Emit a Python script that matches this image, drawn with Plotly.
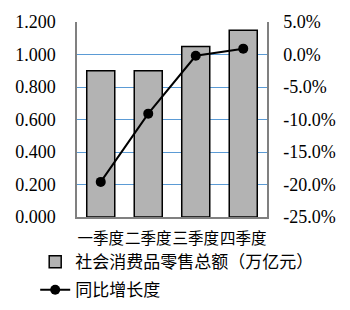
import plotly.graph_objects as go

categories = ["一季度", "二季度", "三季度", "四季度"]
retail_sales = [0.90, 0.90, 1.05, 1.15]
yoy_growth = [-19.6, -9.1, -0.2, 0.9]
left_ticks = [0, 0.2, 0.4, 0.6, 0.8, 1.0, 1.2]
right_ticks = [-25, -20, -15, -10, -5, 0, 5]

serif = "Liberation Serif"
cjk = "Noto Sans CJK SC"

fig = go.Figure()
fig.add_trace(go.Bar(
    x=categories, y=retail_sales, name="社会消费品零售总额（万亿元）",
    marker=dict(color="#B3B3B3", line=dict(color="black", width=1.5)),
    width=0.59, legendgroup="a",
))
fig.add_trace(go.Scatter(
    x=categories, y=yoy_growth, name="同比增长度", yaxis="y2",
    mode="lines+markers", line=dict(color="black", width=2),
    marker=dict(color="black", size=10), legendgroup="b",
))

fig.update_layout(
    width=350, height=310,
    font=dict(family=serif, size=18, color="black"),
    margin=dict(l=77, r=83, t=22, b=93, autoexpand=False),
    plot_bgcolor="white", paper_bgcolor="white",
    showlegend=True,
    legend=dict(x=-0.22, y=0.2125, xanchor="left", yanchor="top",
                yref="container",
                font=dict(family=cjk, size=17, color="black"),
                traceorder="grouped", tracegroupgap=3,
                bgcolor="rgba(0,0,0,0)"),
    xaxis=dict(
        showline=True, linecolor="#808080", linewidth=1.5,
        tickfont=dict(family=cjk, size=15.5, color="black"),
        tickangle=0, ticks="outside", ticklen=7, tickcolor="rgba(0,0,0,0)",
        showgrid=False, automargin=False,
    ),
    yaxis=dict(
        range=[0, 1.2], tickvals=left_ticks,
        ticktext=[f"{v:.3f}" for v in left_ticks],
        tickfont=dict(family=serif, size=18, color="black"),
        showline=True, linecolor="#808080", linewidth=1.5,
        showgrid=True, gridcolor="#5B9BD5", gridwidth=1,
        ticks="outside", ticklen=16, tickcolor="rgba(0,0,0,0)", zeroline=False,
        automargin=False,
    ),
    yaxis2=dict(
        range=[-25, 5], tickvals=right_ticks,
        ticktext=[f"{v:.1f}%" for v in right_ticks],
        tickfont=dict(family=serif, size=18, color="black"),
        overlaying="y", side="right",
        showline=True, linecolor="#808080", linewidth=1.5,
        showgrid=False, zeroline=False,
        ticks="outside", ticklen=11, tickcolor="rgba(0,0,0,0)",
        automargin=False,
    ),
)

fig.write_html("out.html")
